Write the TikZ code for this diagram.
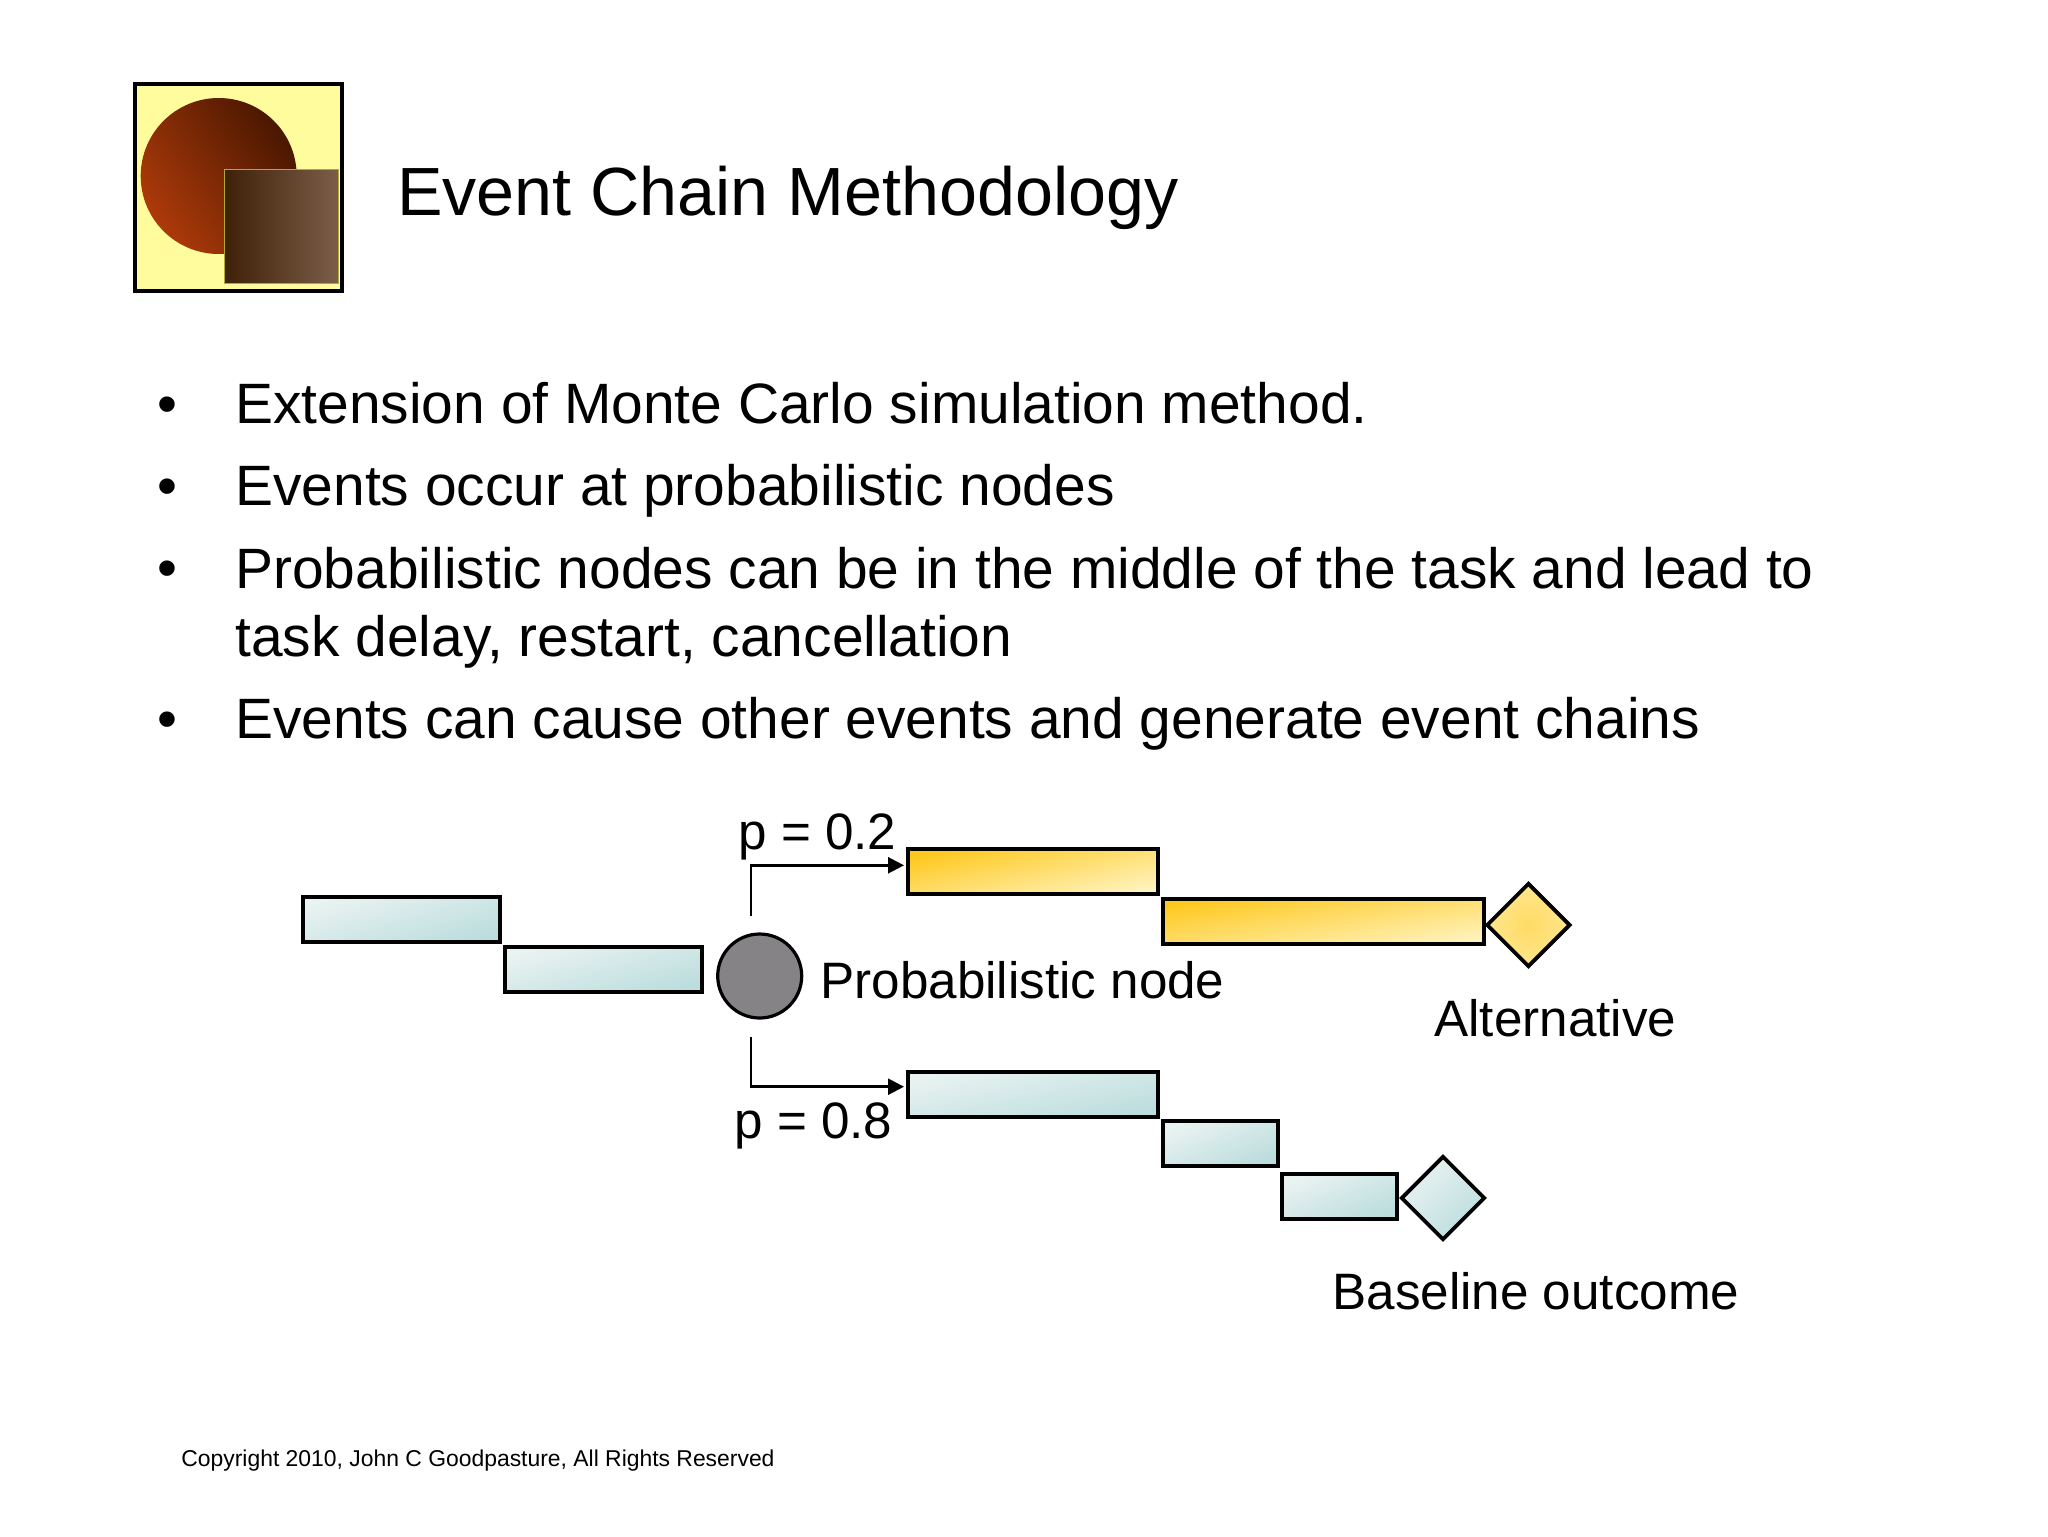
\documentclass[tikz,border=0pt]{standalone}
\usepackage{fontspec}
\setmainfont{Liberation Sans}
\usetikzlibrary{arrows.meta,shapes.geometric,positioning}
\definecolor{paleblue}{HTML}{E9F3F1}
\definecolor{deepblue}{HTML}{BCDDDE}
\definecolor{paleyellow}{HTML}{FFF3BC}
\definecolor{deepyellow}{HTML}{FEC81E}
\definecolor{nodegray}{HTML}{858385}
\definecolor{logoyellow}{HTML}{FFFC9E}
\definecolor{ballred}{HTML}{AD3A0A}
\definecolor{ballmid}{HTML}{8F2E08}
\definecolor{balldark}{HTML}{4A1700}
\definecolor{blockdark}{HTML}{3F2008}
\definecolor{blocklight}{HTML}{7B5E48}
\tikzset{>={Triangle[length=8pt,width=8pt]}}
\tikzset{
  bar/.style={draw=black, line width=2pt, inner sep=0pt, anchor=north west, minimum height=22.5pt},
  bluebar/.style={bar, left color=paleblue, middle color=paleblue!95!deepblue, right color=deepblue, shading angle=12},
  yellowbar/.style={bar, left color=deepyellow, middle color=paleyellow!85!deepyellow, right color=paleyellow, shading angle=12},
  outcome/.style={diamond, draw=black, line width=1.9pt, inner sep=0pt, minimum width=42pt, minimum height=42pt, aspect=1},
  flow/.style={->, line width=1.25pt},
  label/.style={inner sep=0pt, anchor=base west, font=\fontsize{25.6pt}{30pt}\selectfont},
  bulletline/.style={inner sep=0pt, anchor=base west, align=left, font=\fontsize{28.45pt}{34pt}\selectfont},
  dotmark/.style={inner sep=0pt, anchor=base, font=\fontsize{28.45pt}{34pt}\selectfont}
}
\begin{document}
\begin{tikzpicture}[x=0.5pt, y=-0.5pt]
  \useasboundingbox (0,0) rectangle (2048,1536);
  % logo
  \node[draw=black, line width=2.2pt, fill=logoyellow, minimum size=103.5pt, inner sep=0pt] (logo) at (238.5,187.5) {};
  \node[circle, inner sep=0pt, minimum size=78pt, left color=ballred, middle color=ballmid, right color=balldark, shading angle=125] (ball) at (218.7,176) {};
  \node[inner sep=0pt, minimum size=57pt, left color=blockdark, right color=blocklight, draw=olive!70, line width=.4pt] (block) at (281.5,226.3) {};
  \node[inner sep=0pt, anchor=base west, font=\fontsize{34.1pt}{40pt}\selectfont] (title) at (397,215) {Event Chain Methodology};
  % bullets
  \node[dotmark] (dota) at (167,423.5) {•};
  \node[dotmark] (dotb) at (167,505.5) {•};
  \node[dotmark] (dotc) at (167,587.5) {•};
  \node[dotmark] (dotd) at (167,738.5) {•};
  \node[bulletline] (linea) at (235,423.5) {Extension of Monte Carlo simulation method.};
  \node[bulletline] (lineb) at (235,505.5) {Events occur at probabilistic nodes};
  \node[bulletline, anchor=north west] (linec) at (235,546.5) {Probabilistic nodes can be in the middle of the task and lead to\\task delay, restart, cancellation};
  \node[bulletline] (lined) at (235,738.5) {Events can cause other events and generate event chains};
  % tasks before the node
  \node[bluebar, minimum width=98.5pt, shading angle=16] (preA) at (301,895) {};
  \node[bluebar, minimum width=98.5pt, shading angle=16] (preB) at (502.5,945) {};
  \node[circle, draw=black, line width=1.6pt, fill=nodegray, minimum size=42pt, inner sep=0pt] (prob) at (759.7,976) {};
  \node[label] (probtext) at (820,998) {Probabilistic node};
  % branches
  \coordinate (upfrom) at (751,916);
  \coordinate (upto) at (904,865.3);
  \coordinate (downfrom) at (751,1036.7);
  \coordinate (downto) at (904,1086.7);
  \draw[flow] (upfrom) |- (upto);
  \draw[flow] (downfrom) |- (downto);
  \node[label] (ptop) at (738,849) {p = 0.2};
  \node[label] (pbot) at (734,1138) {p = 0.8};
  % alternative path
  \node[yellowbar, minimum width=125pt] (altA) at (906,847) {};
  \node[yellowbar, minimum width=160.5pt, shading angle=9] (altB) at (1161,897) {};
  \node[outcome, shading=radial, inner color=deepyellow!55!paleyellow, outer color=paleyellow!70!deepyellow] (altend) at (1528.4,925) {};
  \node[label] (alttext) at (1434,1036) {Alternative};
  % baseline path
  \node[bluebar, minimum width=125pt] (baseA) at (906,1069.5) {};
  \node[bluebar, minimum width=57.5pt, shading angle=24] (baseB) at (1161,1118.5) {};
  \node[bluebar, minimum width=57.5pt, shading angle=24] (baseC) at (1279.5,1172) {};
  \node[outcome, left color=paleblue, right color=deepblue, shading angle=45] (baseend) at (1443,1198) {};
  \node[label] (basetext) at (1332,1309) {Baseline outcome};
  \node[inner sep=0pt, anchor=base west, font=\fontsize{11.45pt}{14pt}\selectfont] (copy) at (181,1466.5) {Copyright 2010, John C Goodpasture, All Rights Reserved};
\end{tikzpicture}
\end{document}
